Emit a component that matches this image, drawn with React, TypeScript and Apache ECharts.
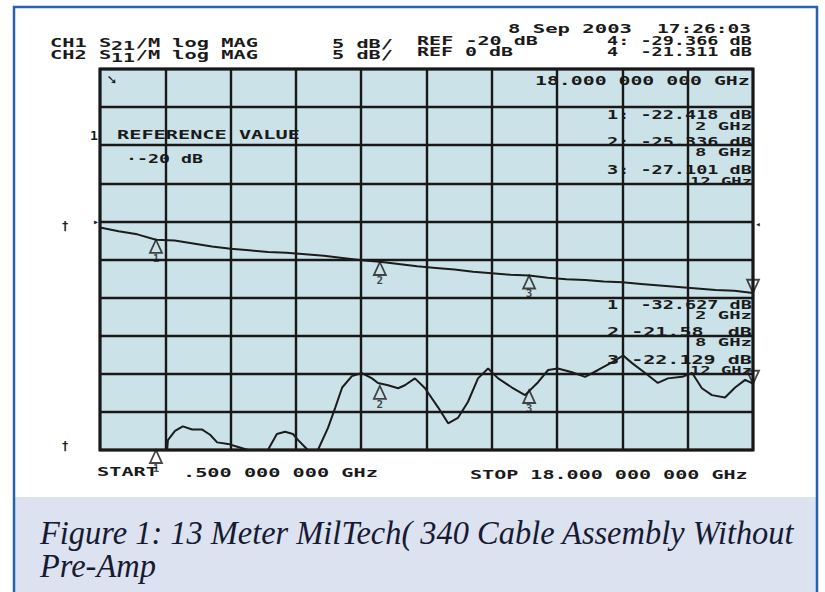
import React, { useEffect, useRef } from "react";
import * as echarts from "echarts";

// ---- data ----
// CH1: S21 (transmission), GHz / dB
const s21Freq = [0.5, 1.0, 1.5, 2.0, 2.5, 3.0, 3.5, 4.0, 4.5, 5.0, 5.5, 6.0, 6.5, 7.0, 7.5, 8.0, 8.5, 9.0, 9.5, 10.0, 10.5, 11.0, 11.5, 12.0, 12.5, 13.0, 13.5, 14.0, 14.5, 15.0, 15.5, 16.0, 16.5, 17.0, 17.5, 18.0];
const s21Db = [-20.8, -21.3, -21.7, -22.4, -22.5, -22.9, -23.3, -23.6, -23.8, -24.0, -24.1, -24.3, -24.5, -24.8, -25.1, -25.3, -25.6, -25.9, -26.1, -26.3, -26.6, -26.8, -27.0, -27.1, -27.4, -27.6, -27.7, -27.9, -28.0, -28.2, -28.4, -28.6, -28.8, -29.0, -29.1, -29.4];

// CH2: S11 (return loss), GHz / dB (values below -30 dB sit on the bottom edge)
const s11Freq = [0.5, 1.0, 1.5, 2.0, 2.3, 2.32, 2.51, 2.72, 2.97, 3.23, 3.45, 3.64, 3.93, 4.2, 4.47, 5.0, 5.24, 5.46, 5.67, 5.81, 6.07, 6.34, 6.61, 6.8, 6.99, 7.25, 7.52, 7.79, 7.95, 8.22, 8.49, 8.67, 8.94, 9.21, 9.56, 9.83, 10.09, 10.36, 10.63, 10.9, 11.17, 11.54, 11.89, 12.24, 12.51, 12.77, 13.15, 13.5, 13.85, 14.22, 14.52, 14.76, 15.11, 15.45, 15.72, 16.1, 16.37, 16.63, 16.9, 17.25, 17.52, 17.79, 18.0];
const s11Db = [-30, -30, -30, -30, -30, -28.7, -27.5, -26.9, -27.3, -27.3, -28.0, -29.0, -29.2, -29.6, -30, -30, -27.9, -27.6, -27.9, -28.7, -30, -30, -27.1, -24.5, -21.8, -20.3, -19.9, -20.6, -21.2, -21.5, -21.9, -21.5, -20.6, -21.9, -24.4, -26.5, -25.8, -23.7, -20.6, -19.3, -20.6, -21.8, -22.8, -21.1, -19.5, -19.3, -19.8, -20.4, -19.5, -18.5, -17.6, -18.6, -19.9, -21.2, -20.6, -20.4, -19.9, -21.9, -22.8, -23.1, -21.8, -20.8, -21.3];

// markers
const markerFreq = [2, 8, 12, 18];
const markerNames = ["1", "2", "3", "4"];
const s21Marker = [-22.418, -25.336, -27.101, -29.366];
const s11Marker = [-30, -21.58, -22.129, -21.311]; // marker 1 (-32.627 dB) is shown clipped at the bottom edge

// axis scales
const xStart = 0.5;
const xStop = 18;
const s21Range = [-50, 0];
const s11Range = [-30, 20];
const dbPerDiv = 5;

// ---- texts ----
const TXT = "#1a1a1a";
const MONO = '"DejaVu Sans Mono", monospace';
const SERIF = '"Liberation Serif", "DejaVu Serif", serif';

// [text, left, right, centerY, fontSize]
const monoTexts: [string, number, number, number, number][] = [
  ["8 Sep 2003", 508, 632, 29, 12],
  ["17:26:03", 657, 751, 29, 12],
  ["CH1 S  /M log MAG", 50, 258, 43, 12],
  ["5 dB/", 332, 393, 44, 12],
  ["REF -20 dB", 417, 538, 41, 12],
  ["4: -29.366 dB", 607, 752, 41, 12],
  ["CH2 S  /M log MAG", 50, 258, 55, 12],
  ["5 dB/", 332, 393, 55, 12],
  ["REF 0 dB", 417, 513, 52, 12],
  ["4  -21.311 dB", 607, 752, 52, 12],
  ["18.000 000 000 GHz", 535, 750, 81, 12],
  ["1: -22.418 dB", 607, 752, 115, 12],
  ["2 GHz", 695, 752, 126, 11],
  ["2: -25.336 dB", 607, 752, 142, 12],
  ["8 GHz", 695, 752, 152, 11],
  ["3: -27.101 dB", 607, 752, 170, 12],
  ["12 GHz", 690, 752, 181, 11],
  ["1  -32.627 dB", 607, 752, 305, 12],
  ["2 GHz", 695, 752, 315, 11],
  ["2 -21.58  dB", 607, 752, 332, 12],
  ["8 GHz", 695, 752, 342, 11],
  ["3 -22.129 dB", 607, 752, 360, 12],
  ["12 GHz", 690, 752, 370, 11],
  ["21", 111, 135, 46, 12],
  ["11", 111, 135, 58, 12],
  ["1", 90, 98, 136, 12],
  ["REFERENCE VALUE", 117, 300, 135, 12],
  ["·-20 dB", 126, 203, 159, 12],
  ["START", 97, 158, 472, 12],
  [".500 000 000 GHz", 183, 378, 473, 12],
  ["STOP 18.000 000 000 GHz", 470, 748, 475, 12],
];

const captionLines = ["Figure 1: 13 Meter MilTech( 340 Cable Assembly Without", "Pre-Amp"];

function measure(text: string, font: string): number {
  const c = document.createElement("canvas").getContext("2d");
  if (!c) return text.length * 7;
  c.font = font;
  return c.measureText(text).width;
}

function buildGraphics(): any[] {
  const els: any[] = [];
  // caption band
  els.push({ type: "rect", z: 0, shape: { x: 14, y: 497, width: 803, height: 110 }, style: { fill: "#dce2f0" } });
  // frame
  els.push({ type: "rect", z: 10, shape: { x: 14, y: 7, width: 803, height: 610 }, style: { fill: "none", stroke: "#2662ad", lineWidth: 2.5 } });

  for (const [t, x1, x2, y, fs] of monoTexts) {
    const font = `bold ${fs}px ${MONO}`;
    const w = measure(t, font);
    els.push({
      type: "text",
      z: 5,
      x: x1,
      y,
      scaleX: (x2 - x1) / w,
      style: { text: t, fontSize: fs, fontFamily: MONO, fontWeight: "bold", fill: TXT, textAlign: "left", textVerticalAlign: "middle" },
    });
  }
  // reference position daggers at left
  for (const y of [226, 446]) {
    els.push({ type: "text", z: 5, x: 65, y, style: { text: "†", fontSize: 12, fontFamily: MONO, fontWeight: "bold", fill: TXT, textAlign: "center", textVerticalAlign: "middle" } });
  }
  // small reference-line indicators on the plot edges
  els.push({ type: "text", z: 5, x: 96, y: 221, style: { text: "▸", fontSize: 10, fontFamily: MONO, fill: TXT, textAlign: "center", textVerticalAlign: "middle" } });
  els.push({ type: "text", z: 5, x: 758, y: 224, style: { text: "◂", fontSize: 9, fontFamily: MONO, fill: TXT, textAlign: "center", textVerticalAlign: "middle" } });
  els.push({ type: "text", z: 5, x: 112, y: 79, style: { text: "➘", fontSize: 13, fontFamily: '"DejaVu Sans"', fontWeight: "bold", fill: TXT, textAlign: "center", textVerticalAlign: "middle" } });

  // caption
  const capSize = 34;
  const capFont = `italic ${capSize}px ${SERIF}`;
  const capScale = (794 - 40) / measure(captionLines[0], capFont);
  captionLines.forEach((t, i) => {
    els.push({
      type: "text",
      z: 5,
      x: 40,
      y: 532 + i * 33,
      scaleX: capScale,
      style: { text: t, fontSize: capSize, fontStyle: "italic", fontFamily: SERIF, fill: "#161a33", textAlign: "left", textVerticalAlign: "middle" },
    });
  });
  return els;
}

export default function App() {
  const ref = useRef<HTMLDivElement>(null);
  useEffect(() => {
    if (!ref.current) return;
    const chart = echarts.init(ref.current, undefined, { renderer: "svg" });

    const s21Data = s21Freq.map((f, i) => [f, s21Db[i]]);
    const s11Data = s11Freq.map((f, i) => [f, s11Db[i]]);
    const mk = (vals: number[], idx: number[]) => idx.map((i) => ({ value: [markerFreq[i], vals[i]], name: markerNames[i] }));

    const triUp = {
      type: "scatter",
      symbol: "triangle",
      symbolSize: [12, 13],
      symbolOffset: [0, 6.5],
      clip: false,
      itemStyle: { color: "rgba(0,0,0,0)", borderColor: TXT, borderWidth: 1.8 },
      label: { show: true, position: "bottom", distance: -1, formatter: "{b}", color: TXT, fontFamily: MONO, fontWeight: "bold", fontSize: 11 },
      z: 4,
    };
    const triDown = {
      type: "scatter",
      symbol: "triangle",
      symbolRotate: 180,
      symbolSize: [12, 13],
      symbolOffset: [0, -6.5],
      clip: false,
      itemStyle: { color: "rgba(0,0,0,0)", borderColor: TXT, borderWidth: 1.8 },
      z: 4,
    };

    chart.setOption({
      animation: false,
      backgroundColor: "#ffffff",
      grid: {
        left: 100,
        top: 69,
        width: 653,
        height: 381,
        show: true,
        backgroundColor: "#cce2e9",
        borderColor: "#141414",
        borderWidth: 3,
      },
      xAxis: [
        { type: "value", min: xStart, max: xStop, show: false, gridIndex: 0 },
        {
          type: "value",
          min: 0,
          max: 10,
          interval: 1,
          gridIndex: 0,
          axisLine: { show: false },
          axisTick: { show: false },
          axisLabel: { show: false },
          splitLine: { show: true, lineStyle: { color: "#181818", width: 2.4 } },
        },
      ],
      yAxis: [
        {
          type: "value",
          min: s21Range[0],
          max: s21Range[1],
          interval: dbPerDiv,
          axisLine: { show: false },
          axisTick: { show: false },
          axisLabel: { show: false },
          splitLine: { show: true, lineStyle: { color: "#181818", width: 2.4 } },
        },
        { type: "value", min: s11Range[0], max: s11Range[1], show: false },
      ],
      series: [
        {
          type: "line",
          name: "S21",
          xAxisIndex: 0,
          yAxisIndex: 0,
          data: s21Data,
          symbol: "none",
          lineStyle: { color: "#1c1c1c", width: 2 },
          z: 3,
        },
        {
          type: "line",
          name: "S11",
          xAxisIndex: 0,
          yAxisIndex: 1,
          data: s11Data,
          symbol: "none",
          lineStyle: { color: "#1c1c1c", width: 2 },
          z: 3,
        },
        { ...triUp, xAxisIndex: 0, yAxisIndex: 0, data: mk(s21Marker, [0, 1, 2]) },
        { ...triUp, xAxisIndex: 0, yAxisIndex: 1, data: mk(s11Marker, [0, 1, 2]) },
        { ...triDown, xAxisIndex: 0, yAxisIndex: 0, data: mk(s21Marker, [3]) },
        { ...triDown, xAxisIndex: 0, yAxisIndex: 1, data: mk(s11Marker, [3]) },
      ],
      graphic: { elements: buildGraphics() },
    });

    return () => chart.dispose();
  }, []);

  return <div ref={ref} style={{ position: "fixed", left: 0, top: 0, width: 825, height: 592 }} />;
}
